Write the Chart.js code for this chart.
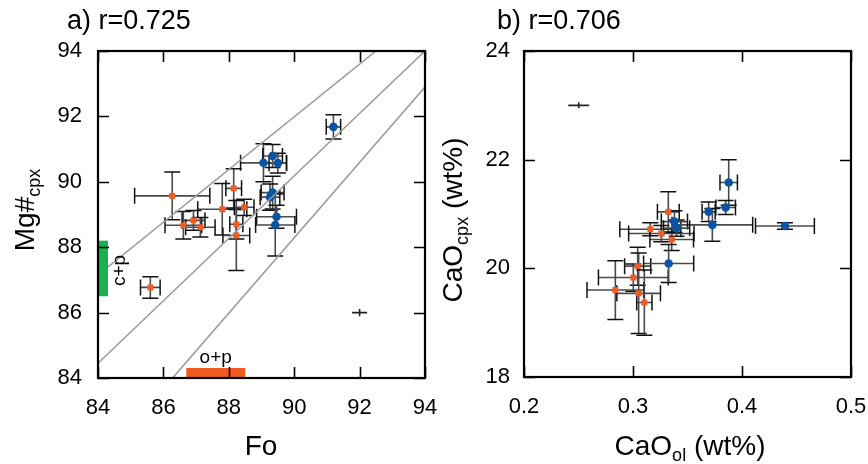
<!DOCTYPE html>
<html>
<head>
<meta charset="utf-8">
<script src="https://cdn.jsdelivr.net/npm/chart.js@4.4.1/dist/chart.umd.min.js"></script>
<style>
  html, body { margin: 0; padding: 0; background: #fff; }
  #wrap { position: relative; width: 868px; height: 464px; overflow: hidden; }
  canvas { position: absolute; top: 0; }
</style>
</head>
<body>
<div id="wrap">
  <canvas id="chartA" width="460" height="464" style="left:0"></canvas>
  <canvas id="chartB" width="434" height="464" style="left:434px"></canvas>
</div>
<script>
const FONT = "'Liberation Sans', Arial, Helvetica, sans-serif";
const ORANGE = '#f15a22';
const BLUE = '#0a55a3';

// panel a: Fo (olivine) vs Mg# cpx
const foOrange    = [86.27, 86.61, 86.92, 87.13, 87.80, 88.15, 88.47, 88.23, 88.23, 85.60];
const mgOrange    = [89.57, 88.67, 88.82, 88.61, 89.16, 89.80, 89.22, 88.70, 88.36, 86.77];
const foOrangeErr = [1.15, 0.56, 0.35, 0.45, 0.75, 0.24, 0.30, 0.20, 0.41, 0.30];
const mgOrangeErr = [0.73, 0.42, 0.30, 0.30, 0.79, 0.60, 0.25, 0.45, 1.07, 0.33];
const foBlue    = [91.20, 89.06, 89.34, 89.50, 89.34, 89.26, 89.46, 89.42];
const mgBlue    = [91.68, 90.58, 90.79, 90.57, 89.67, 89.53, 88.93, 88.68];
const foBlueErr = [0.22, 0.70, 0.30, 0.27, 0.35, 0.30, 0.61, 0.60];
const mgBlueErr = [0.37, 0.58, 0.35, 0.30, 0.50, 0.40, 0.35, 0.95];
const refFo = [92], refMg = [86], refFoErr = [0.23], refMgErr = [0.11];
// equilibrium lines, end points
const kdLinesFo = [[84, 92.5], [84, 94], [86.28, 94]];
const kdLinesMg = [[87.15, 94], [84.45, 94], [84, 92.9]];
const cpRangeMg = [86.5, 88.2];
const opRangeFo = [86.7, 88.5];

// panel b: CaO olivine vs CaO cpx
const caOlOrange     = [0.3324, 0.3159, 0.3260, 0.3355, 0.3043, 0.3003, 0.2838, 0.3052, 0.3104];
const caCpxOrange    = [21.04, 20.72, 20.64, 20.53, 20.04, 19.83, 19.60, 19.54, 19.37];
const caOlOrangeErr  = [0.010, 0.028, 0.030, 0.020, 0.012, 0.032, 0.026, 0.020, 0.007];
const caCpxOrangeErr = [0.37, 0.12, 0.15, 0.20, 0.35, 0.25, 0.54, 0.74, 0.60];
const caOlBlue     = [0.3878, 0.3850, 0.3694, 0.3728, 0.4394, 0.3380, 0.3400, 0.3327];
const caCpxBlue    = [21.58, 21.12, 21.04, 20.80, 20.78, 20.86, 20.74, 20.09];
const caOlBlueErr  = [0.008, 0.009, 0.006, 0.037, 0.027, 0.012, 0.012, 0.023];
const caCpxBlueErr = [0.42, 0.13, 0.18, 0.30, 0.06, 0.20, 0.15, 0.35];
const refCaOl = [0.2502], refCaCpx = [23.0], refCaOlErr = [0.0096], refCaCpxErr = [0.055];

const pts = (xs, ys) => xs.map((v, i) => ({x: v, y: ys[i]}));

// error bars drawn under the markers
const errorBars = {
  id: 'errorBars',
  beforeDatasetsDraw(chart) {
    const {ctx, scales: {x, y}} = chart;
    ctx.save();
    chart.data.datasets.forEach(ds => {
      if (!ds.xErr) return;
      const cap = ds.cap || 0;
      ds.data.forEach((p, i) => {
        const px = x.getPixelForValue(p.x), py = y.getPixelForValue(p.y);
        const xl = x.getPixelForValue(p.x - ds.xErr[i]), xr = x.getPixelForValue(p.x + ds.xErr[i]);
        const yt = y.getPixelForValue(p.y + ds.yErr[i]), yb = y.getPixelForValue(p.y - ds.yErr[i]);
        ctx.strokeStyle = cap ? '#4a4a4a' : '#222';
        ctx.lineWidth = 1.6;
        ctx.beginPath();
        ctx.moveTo(xl, py); ctx.lineTo(xr, py);
        ctx.moveTo(px, yt); ctx.lineTo(px, yb);
        ctx.stroke();
        if (cap) {
          ctx.strokeStyle = '#111';
          ctx.lineWidth = 1.5;
          ctx.beginPath();
          ctx.moveTo(xl, py - cap); ctx.lineTo(xl, py + cap);
          ctx.moveTo(xr, py - cap); ctx.lineTo(xr, py + cap);
          ctx.moveTo(px - cap, yt); ctx.lineTo(px + cap, yt);
          ctx.moveTo(px - cap, yb); ctx.lineTo(px + cap, yb);
          ctx.stroke();
        }
      });
    });
    ctx.restore();
  }
};

function drawRich(ctx, parts, cx, cy, rot) {
  ctx.save();
  ctx.translate(cx, cy);
  ctx.rotate(rot);
  let w = 0;
  parts.forEach(p => { ctx.font = p[1] + 'px ' + FONT; w += ctx.measureText(p[0]).width; });
  let x = -w / 2;
  ctx.fillStyle = '#000';
  ctx.textAlign = 'left';
  ctx.textBaseline = 'alphabetic';
  parts.forEach(p => {
    ctx.font = p[1] + 'px ' + FONT;
    ctx.fillText(p[0], x, 10 + p[2]);
    x += ctx.measureText(p[0]).width;
  });
  ctx.restore();
}

// frame, inward ticks, titles
const deco = {
  id: 'deco',
  afterDraw(chart, args, o) {
    const {ctx, chartArea: a, scales: {x, y}} = chart;
    ctx.save();
    if (o.bands) o.bands(chart);
    ctx.strokeStyle = '#000';
    ctx.lineWidth = 1.6;
    ctx.beginPath();
    x.ticks.forEach(t => {
      const px = Math.round(x.getPixelForValue(t.value)) + 0.5;
      ctx.moveTo(px, a.bottom); ctx.lineTo(px, a.bottom - 11);
      ctx.moveTo(px, a.top); ctx.lineTo(px, a.top + 11);
    });
    y.ticks.forEach(t => {
      const py = Math.round(y.getPixelForValue(t.value)) + 0.5;
      ctx.moveTo(a.left, py); ctx.lineTo(a.left + 11, py);
      ctx.moveTo(a.right, py); ctx.lineTo(a.right - 11, py);
    });
    ctx.stroke();
    ctx.lineWidth = 2.2;
    ctx.strokeRect(a.left, a.top, a.right - a.left, a.bottom - a.top);
    ctx.fillStyle = '#000';
    ctx.font = '27px ' + FONT;
    ctx.textAlign = 'left';
    ctx.textBaseline = 'alphabetic';
    ctx.fillText(o.title, o.titleX, 29);
    drawRich(ctx, o.xTitle, o.xTitlePos[0], o.xTitlePos[1], 0);
    drawRich(ctx, o.yTitle, o.yTitlePos[0], o.yTitlePos[1], -Math.PI / 2);
    ctx.restore();
  }
};

function scales(xMin, xMax, xStep, yMin, yMax, yStep, yWidth, xHeight, xDec, yPad) {
  const tickFont = {family: FONT, size: 22};
  return {
    x: {
      type: 'linear', min: xMin, max: xMax,
      ticks: {stepSize: xStep, font: tickFont, color: '#000', padding: 17, maxRotation: 0,
        callback: v => v.toFixed(xDec)},
      grid: {display: false, drawTicks: false},
      border: {display: false},
      afterFit(s) { s.height = xHeight; s.paddingRight = 0; s.paddingLeft = 0; }
    },
    y: {
      type: 'linear', min: yMin, max: yMax,
      ticks: {stepSize: yStep, font: tickFont, color: '#000', padding: yPad,
        callback: v => v.toFixed(0)},
      grid: {display: false, drawTicks: false},
      border: {display: false},
      afterFit(s) { s.width = yWidth; s.paddingTop = 0; s.paddingBottom = 0; }
    }
  };
}

function pointSets(xs, ys, xe, ye, style, color, r) {
  return {
    data: pts(xs, ys), xErr: xe, yErr: ye, cap: 8,
    pointStyle: style, pointRadius: r, backgroundColor: color, borderWidth: 0
  };
}

// panel a
const lineSets = kdLinesFo.map((fo, i) => ({
  type: 'line', data: pts(fo, kdLinesMg[i]), borderColor: '#9b9b9b', borderWidth: 1.6,
  pointRadius: 0, fill: false, showLine: true
}));

new Chart(document.getElementById('chartA'), {
  type: 'scatter',
  data: {
    datasets: [
      ...lineSets,
      {data: pts(refFo, refMg), xErr: refFoErr, yErr: refMgErr, cap: 0, pointRadius: 0},
      pointSets(foOrange, mgOrange, foOrangeErr, mgOrangeErr, 'rect', ORANGE, 4.2),
      pointSets(foBlue, mgBlue, foBlueErr, mgBlueErr, 'circle', BLUE, 4.3)
    ]
  },
  options: {
    responsive: false,
    animation: false,
    events: [],
    layout: {padding: {left: 0, right: 35, top: 51, bottom: 0}},
    scales: scales(84, 94, 2, 84, 94, 2, 98, 86, 0, 16),
    plugins: {
      legend: {display: false},
      tooltip: {enabled: false},
      deco: {
        title: 'a) r=0.725', titleX: 67,
        xTitle: [['Fo', 28, 0]], xTitlePos: [261, 445],
        yTitle: [['Mg#', 28, 0], ['cpx', 18, 6]], yTitlePos: [24, 210],
        bands(chart) {
          const {ctx, chartArea: a, scales: {x, y}} = chart;
          const yt = y.getPixelForValue(cpRangeMg[1]), yb = y.getPixelForValue(cpRangeMg[0]);
          ctx.fillStyle = '#1db04f';
          ctx.fillRect(a.left, yt, 10, yb - yt);
          const xl = x.getPixelForValue(opRangeFo[0]), xr = x.getPixelForValue(opRangeFo[1]);
          ctx.fillStyle = ORANGE;
          ctx.fillRect(xl, a.bottom - 10, xr - xl, 10);
          ctx.fillStyle = '#000';
          ctx.font = '19px ' + FONT;
          ctx.textAlign = 'center';
          ctx.textBaseline = 'middle';
          ctx.fillText('o+p', (xl + xr) / 2, a.bottom - 20);
          ctx.save();
          ctx.translate(a.left + 22, (yt + yb) / 2 + 2);
          ctx.rotate(-Math.PI / 2);
          ctx.fillText('c+p', 0, 0);
          ctx.restore();
        }
      }
    }
  },
  plugins: [errorBars, deco]
});

// panel b
new Chart(document.getElementById('chartB'), {
  type: 'scatter',
  data: {
    datasets: [
      {data: pts(refCaOl, refCaCpx), xErr: refCaOlErr, yErr: refCaCpxErr, cap: 0, pointRadius: 0},
      pointSets(caOlOrange, caCpxOrange, caOlOrangeErr, caCpxOrangeErr, 'rect', ORANGE, 4.2),
      pointSets(caOlBlue, caCpxBlue, caOlBlueErr, caCpxBlueErr, 'circle', BLUE, 4.3)
    ]
  },
  options: {
    responsive: false,
    animation: false,
    events: [],
    layout: {padding: {left: 0, right: 17, top: 51, bottom: 0}},
    scales: scales(0.2, 0.5, 0.1, 18, 24, 2, 90, 87, 1, 14),
    plugins: {
      legend: {display: false},
      tooltip: {enabled: false},
      deco: {
        title: 'b) r=0.706', titleX: 63,
        xTitle: [['CaO', 28, 0], ['ol', 18, 6], [' (wt%)', 28, 0]], xTitlePos: [256, 445],
        yTitle: [['CaO', 28, 0], ['cpx', 18, 6], [' (wt%)', 28, 0]], yTitlePos: [18, 220]
      }
    }
  },
  plugins: [errorBars, deco]
});
</script>
</body>
</html>
